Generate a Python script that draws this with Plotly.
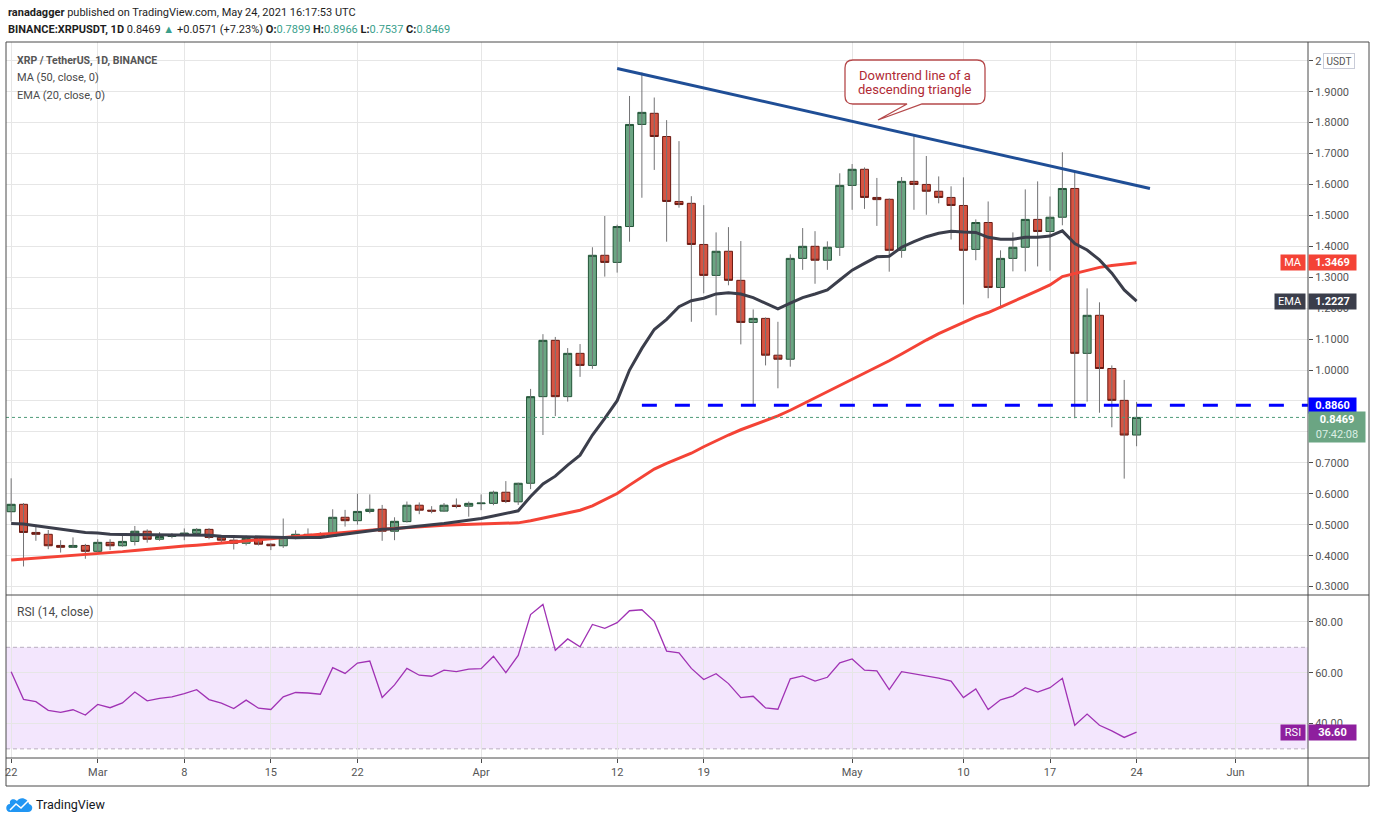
import pandas as pd
import plotly.graph_objects as go

# daily candles, Feb 22 -> May 24 2021
dates = pd.date_range("2021-02-22", periods=92, freq="D")

opens = [0.542, 0.566, 0.475, 0.469, 0.433, 0.427, 0.433,
         0.414, 0.443, 0.432, 0.446, 0.479, 0.453, 0.462, 0.467, 0.472, 0.485,
         0.459, 0.450, 0.440, 0.456, 0.437, 0.432, 0.459, 0.469, 0.466, 0.463,
         0.524, 0.513, 0.543, 0.550, 0.479, 0.510, 0.563, 0.547, 0.544, 0.563, 0.560,
         0.568, 0.569, 0.605, 0.574, 0.634, 0.914, 1.096, 0.914, 1.054, 1.015,
         1.371, 1.348, 1.464, 1.794, 1.830, 1.755, 1.545, 1.539, 1.406, 1.306,
         1.384, 1.290, 1.154, 1.167, 1.048, 1.035, 1.361, 1.400, 1.355, 1.397,
         1.597, 1.649, 1.558, 1.552, 1.387, 1.610, 1.600, 1.578, 1.558, 1.532,
         1.390, 1.477, 1.267, 1.361, 1.397, 1.487, 1.448, 1.494, 1.587, 1.054,
         1.177, 1.005, 0.902, 0.7899]
highs = [0.650, 0.570, 0.500, 0.483, 0.450, 0.459, 0.438,
         0.453, 0.453, 0.470, 0.496, 0.485, 0.476, 0.473, 0.488, 0.489, 0.489,
         0.462, 0.460, 0.465, 0.460, 0.440, 0.520, 0.482, 0.488, 0.476, 0.550,
         0.548, 0.600, 0.598, 0.564, 0.524, 0.575, 0.572, 0.560, 0.570, 0.585, 0.575,
         0.598, 0.610, 0.641, 0.636, 0.939, 1.116, 1.107, 1.071, 1.084, 1.397,
         1.498, 1.470, 1.886, 1.962, 1.881, 1.808, 1.740, 1.562, 1.533, 1.445,
         1.462, 1.417, 1.196, 1.170, 1.156, 1.374, 1.459, 1.449, 1.416, 1.636,
         1.666, 1.655, 1.621, 1.555, 1.624, 1.763, 1.692, 1.626, 1.594, 1.623,
         1.487, 1.545, 1.387, 1.445, 1.584, 1.610, 1.561, 1.704, 1.642, 1.264,
         1.219, 1.015, 0.968, 0.8966]
lows = [0.510, 0.365, 0.448, 0.421, 0.410, 0.425, 0.390,
        0.410, 0.418, 0.429, 0.433, 0.442, 0.448, 0.456, 0.450, 0.470, 0.453,
        0.440, 0.420, 0.433, 0.433, 0.418, 0.425, 0.453, 0.462, 0.456, 0.462,
        0.494, 0.500, 0.537, 0.448, 0.450, 0.507, 0.534, 0.537, 0.541, 0.553, 0.526,
        0.547, 0.563, 0.570, 0.564, 0.615, 0.790, 0.851, 0.898, 0.978, 1.004,
        1.302, 1.315, 1.415, 1.557, 1.647, 1.415, 1.525, 1.156, 1.248, 1.177,
        1.274, 1.083, 0.886, 1.015, 0.941, 1.011, 1.324, 1.279, 1.324, 1.369,
        1.518, 1.521, 1.466, 1.318, 1.363, 1.518, 1.502, 1.539, 1.422, 1.212,
        1.355, 1.232, 1.199, 1.319, 1.319, 1.335, 1.321, 1.468, 0.844, 0.898,
        0.862, 0.815, 0.649, 0.7537]
closes = [0.566, 0.475, 0.469, 0.432, 0.427, 0.433, 0.414,
          0.443, 0.432, 0.446, 0.479, 0.453, 0.462, 0.467, 0.473, 0.485, 0.459,
          0.450, 0.440, 0.456, 0.437, 0.432, 0.459, 0.469, 0.466, 0.463, 0.524,
          0.513, 0.543, 0.550, 0.479, 0.511, 0.563, 0.547, 0.544, 0.563, 0.559, 0.569,
          0.570, 0.605, 0.575, 0.634, 0.914, 1.096, 0.914, 1.054, 1.015, 1.371,
          1.348, 1.464, 1.794, 1.833, 1.755, 1.545, 1.535, 1.406, 1.306, 1.384,
          1.290, 1.154, 1.167, 1.048, 1.035, 1.361, 1.400, 1.355, 1.397, 1.597,
          1.649, 1.558, 1.551, 1.387, 1.610, 1.600, 1.578, 1.558, 1.532, 1.387,
          1.477, 1.267, 1.361, 1.397, 1.487, 1.448, 1.494, 1.587, 1.054, 1.177,
          1.005, 0.902, 0.7898, 0.8469]

ma50 = [0.386, 0.389, 0.392, 0.394, 0.397, 0.399, 0.402,
        0.405, 0.409, 0.413, 0.417, 0.421, 0.425, 0.428, 0.431, 0.434, 0.437,
        0.440, 0.443, 0.447, 0.451, 0.455, 0.459, 0.463, 0.466, 0.469, 0.472,
        0.476, 0.479, 0.482, 0.485, 0.488, 0.491, 0.494, 0.496, 0.498, 0.500, 0.501,
        0.501, 0.502, 0.503, 0.506, 0.513, 0.522, 0.531, 0.539, 0.547, 0.561,
        0.580, 0.601, 0.628, 0.655, 0.680, 0.698, 0.715, 0.731, 0.752, 0.772,
        0.790, 0.807, 0.822, 0.836, 0.852, 0.870, 0.890, 0.910, 0.930, 0.950,
        0.968, 0.989, 1.009, 1.030, 1.052, 1.075, 1.097, 1.118, 1.136, 1.154,
        1.172, 1.186, 1.203, 1.221, 1.239, 1.257, 1.275, 1.302, 1.312, 1.322,
        1.332, 1.338, 1.343, 1.3469]
ema20 = [0.504, 0.502, 0.497, 0.492, 0.485, 0.480, 0.475,
         0.473, 0.469, 0.468, 0.468, 0.467, 0.466, 0.466, 0.466, 0.467, 0.466,
         0.463, 0.462, 0.461, 0.459, 0.458, 0.458, 0.458, 0.459, 0.459, 0.464,
         0.469, 0.475, 0.480, 0.485, 0.487, 0.492, 0.496, 0.500, 0.504, 0.509, 0.515,
         0.520, 0.528, 0.536, 0.545, 0.591, 0.632, 0.657, 0.693, 0.725, 0.790,
         0.844, 0.901, 1.000, 1.070, 1.131, 1.164, 1.205, 1.224, 1.232, 1.246,
         1.250, 1.246, 1.234, 1.216, 1.198, 1.216, 1.234, 1.246, 1.259, 1.291,
         1.323, 1.345, 1.366, 1.368, 1.397, 1.415, 1.431, 1.442, 1.449, 1.446,
         1.445, 1.429, 1.423, 1.423, 1.429, 1.429, 1.433, 1.450, 1.409, 1.388,
         1.356, 1.313, 1.259, 1.2227]
rsi = [60.4, 49.5, 48.6, 45.2, 44.4, 45.4, 43.3, 47.5, 46.2, 48.1,
       52.4, 48.9, 49.9, 50.5, 51.8, 53.3, 49.4, 48.0, 45.9, 49.2,
       46.0, 45.5, 50.5, 52.2, 52.0, 51.5, 62.0, 59.7, 63.8, 64.6,
       50.2, 55.2, 61.7, 59.0, 58.6, 61.0, 60.4, 61.4, 61.6, 66.5,
       60.0, 66.8, 82.9, 86.9, 68.8, 73.3, 70.2, 79.0, 77.5, 79.7,
       84.4, 84.8, 80.2, 68.5, 67.8, 61.7, 57.3, 59.6, 55.7, 50.2,
       50.7, 46.1, 45.6, 57.6, 58.7, 56.7, 58.2, 63.9, 65.4, 61.0,
       60.7, 53.3, 60.4, 59.6, 58.7, 57.9, 56.7, 50.2, 53.6, 45.5,
       49.3, 50.8, 54.1, 52.4, 54.1, 57.8, 39.3, 43.7, 39.3, 37.1,
       34.5, 36.6]

# drawings on the chart
trend_dates = ["2021-04-12", "2021-05-25 02:00"]
trend_prices = [1.975, 1.587]
support_dates = ["2021-04-14", "2021-06-08"]
support_level = 0.886

tick_dates = ["2021-02-22", "2021-03-01", "2021-03-08", "2021-03-15", "2021-03-22",
              "2021-04-01", "2021-04-12", "2021-04-19", "2021-05-01", "2021-05-10",
              "2021-05-17", "2021-05-24", "2021-06-01"]
tick_text = ["22", "Mar", "8", "15", "22", "Apr", "12", "19", "May", "10", "17", "24", "Jun"]
price_ticks = [0.3, 0.4, 0.5, 0.6, 0.7, 0.8, 0.9, 1.0, 1.1, 1.2, 1.3, 1.4, 1.5,
               1.6, 1.7, 1.8, 1.9, 2.0]
# 0.8 / 0.9 sit under the price tags, 2.0 under the currency badge
price_text = ["0.3000", "0.4000", "0.5000", "0.6000", "0.7000", "", "", "1.0000",
              "1.1000", "1.2000", "1.3000", "1.4000", "1.5000", "1.6000", "1.7000",
              "1.8000", "1.9000", "2"]
rsi_ticks = [40, 60, 80]

FONT = "Roboto, sans-serif"
GRID = "#e6e6e6"
FRAME = "#4b4b4b"
UP, UP_LINE = "#6ba583", "#225437"
DOWN, DOWN_LINE = "#d75442", "#6b1a12"
MA_COL, EMA_COL, RSI_COL = "#f44336", "#3b3e4b", "#a032b4"

W, H = 1376, 823
ML, MR, MT, MB = 6, 68, 42, 65
PW, PH = W - ML - MR, H - MT - MB


def xp(px):
    return (px - ML) / PW


def yp(py):
    return (H - MB - py) / PH


split = yp(595)

fig = go.Figure()

# wicks first (grey), bodies drawn on top
wx, wy = [], []
for d, lo, hi in zip(dates, lows, highs):
    wx += [d, d, None]
    wy += [lo, hi, None]
fig.add_trace(go.Scatter(x=wx, y=wy, mode="lines", line=dict(color="#737375", width=1),
                         hoverinfo="skip", xaxis="x", yaxis="y"))

fig.add_trace(go.Candlestick(
    x=dates, open=opens, close=closes,
    high=[max(o, c) for o, c in zip(opens, closes)],
    low=[min(o, c) for o, c in zip(opens, closes)],
    increasing=dict(fillcolor=UP, line=dict(color=UP_LINE, width=1)),
    decreasing=dict(fillcolor=DOWN, line=dict(color=DOWN_LINE, width=1)),
    whiskerwidth=0, xaxis="x", yaxis="y"))

fig.add_trace(go.Scatter(x=dates, y=ma50, mode="lines", line=dict(color=MA_COL, width=3),
                         xaxis="x", yaxis="y"))
fig.add_trace(go.Scatter(x=dates, y=ema20, mode="lines", line=dict(color=EMA_COL, width=3),
                         xaxis="x", yaxis="y"))
fig.add_trace(go.Scatter(x=trend_dates, y=trend_prices, mode="lines",
                         line=dict(color="#1f4e96", width=3), xaxis="x", yaxis="y"))
fig.add_trace(go.Scatter(x=support_dates, y=[support_level] * 2, mode="lines",
                         line=dict(color="#0000ff", width=3, dash="15px,18px"),
                         xaxis="x", yaxis="y"))

fig.add_trace(go.Scatter(x=dates, y=rsi, mode="lines", line=dict(color=RSI_COL, width=1.3),
                         xaxis="x", yaxis="y2"))

shapes = [
    # rsi band
    dict(type="rect", xref="paper", yref="y2", x0=0, x1=1, y0=30, y1=70,
         fillcolor="#f3e6fd", line=dict(width=0), layer="below"),
    dict(type="line", xref="paper", yref="y2", x0=0, x1=1, y0=70, y1=70,
         line=dict(color="#b9aec0", width=1, dash="4px,3px"), layer="below"),
    dict(type="line", xref="paper", yref="y2", x0=0, x1=1, y0=30, y1=30,
         line=dict(color="#b9aec0", width=1, dash="4px,3px"), layer="below"),
    # last price line
    dict(type="line", xref="paper", yref="y", x0=0, x1=1, y0=closes[-1], y1=closes[-1],
         line=dict(color="#4f9a78", width=1, dash="dot")),
    # frame
    dict(type="rect", xref="paper", yref="paper", x0=0, x1=xp(1369), y0=yp(786), y1=1,
         line=dict(color=FRAME, width=1)),
    dict(type="line", xref="paper", yref="paper", x0=1, x1=1, y0=yp(786), y1=1,
         line=dict(color=FRAME, width=1)),
    dict(type="line", xref="paper", yref="paper", x0=0, x1=xp(1369), y0=split, y1=split,
         line=dict(color=FRAME, width=1)),
    dict(type="line", xref="paper", yref="paper", x0=0, x1=xp(1369), y0=0, y1=0,
         line=dict(color=FRAME, width=1)),
]


def path(points):
    out = []
    for p in points:
        if isinstance(p, str):
            out.append(p)
        else:
            out.append(f"{xp(p[0]):.5f},{yp(p[1]):.5f}")
    return " ".join(out)


# callout box with pointer
callout = path(["M", (853, 60), "L", (977, 60), "Q", (985, 60), (985, 68), "L", (985, 96),
                "Q", (985, 104), (977, 104), "L", (922, 104), "L", (878, 120), "L", (907, 104),
                "L", (853, 104), "Q", (845, 104), (845, 96), "L", (845, 68),
                "Q", (845, 60), (853, 60), "Z"])
shapes.append(dict(type="path", xref="paper", yref="paper", path=callout,
                   fillcolor="white", line=dict(color="#b5494b", width=1.3)))

# tradingview logo
cloud = path(["M", (10, 812), "L", (28, 812), "C", (33, 812), (34, 805), (29, 804),
              "C", (28, 798), (20, 796), (17, 801), "C", (14, 798), (9, 799), (10, 804),
              "C", (5, 804), (5, 812), (10, 812), "Z"])
shapes.append(dict(type="path", xref="paper", yref="paper", path=cloud,
                   fillcolor="#2196f3", line=dict(width=0)))
zig = path(["M", (10, 810), "L", (16, 804), "L", (21, 808), "L", (28, 801)])
shapes.append(dict(type="path", xref="paper", yref="paper", path=zig,
                   line=dict(color="white", width=1.5)))

ann = []


def text(s, px, py, size=13, color="#4a4a4a", anchor="left"):
    ann.append(dict(text=s, x=xp(px), y=yp(py), xref="paper", yref="paper",
                    xanchor=anchor, yanchor="middle", showarrow=False,
                    font=dict(size=size, color=color)))


def tag(s, yref, yval, px, anchor, width, bg, height=13, size=11, color="white"):
    ann.append(dict(text=s, x=xp(px), y=yval, xref="paper", yref=yref,
                    xanchor=anchor, yanchor="middle", showarrow=False, width=width,
                    height=height, bgcolor=bg, borderpad=1, align="center",
                    font=dict(size=size, color=color)))


TEAL = "#3a9f8c"
text("<b>ranadagger</b> published on TradingView.com, May 24, 2021 16:17:53 UTC",
     6, 12, size=11, color="#1e1e1e")
chg = closes[-1] - closes[-2]
text(f"<b>BINANCE:XRPUSDT, 1D</b> {closes[-1]:.4f} <span style='color:{TEAL}'>▲</span> "
     f"+{chg:.4f} (+{chg / closes[-2] * 100:.2f}%) "
     f"<b>O:</b><span style='color:{TEAL}'>{opens[-1]:.4f}</span> "
     f"<b>H:</b><span style='color:{TEAL}'>{highs[-1]:.4f}</span> "
     f"<b>L:</b><span style='color:{TEAL}'>{lows[-1]:.4f}</span> "
     f"<b>C:</b><span style='color:{TEAL}'>{closes[-1]:.4f}</span>",
     6, 29, size=11, color="#1e1e1e")

text("<b>XRP / TetherUS, 1D, BINANCE</b>", 15, 60, size=10.5, color="#555555")
text("MA (50, close, 0)", 15, 77, size=11)
text("EMA (20, close, 0)", 15, 95, size=11)
text("RSI (14, close)", 15, 612, size=12)

text("Downtrend line of a", 915, 76, color="#b02a35", anchor="center")
text("descending triangle", 915, 89, color="#b02a35", anchor="center")

text("TradingView", 34, 805, size=12.5, color="#131722")

# price scale tags
tag("USDT", "y", 2.0, 1323, "left", 28, "white", height=12, size=10, color="#555555")
ann[-1].update(bordercolor="#c9ccd8", borderwidth=1)
tag("MA", "y", ma50[-1], 1306, "right", 22, MA_COL)
tag(f"<b>{ma50[-1]:.4f}</b>", "y", ma50[-1], 1308, "left", 45, MA_COL)
tag("EMA", "y", ema20[-1], 1306, "right", 28, EMA_COL)
tag(f"<b>{ema20[-1]:.4f}</b>", "y", ema20[-1], 1308, "left", 45, EMA_COL)
tag(f"<b>{support_level:.4f}</b>", "y", support_level, 1308, "left", 45, "#0000ff")
tag(f"<b>{closes[-1]:.4f}</b><br><span style='color:#dcefe4'>07:42:08</span>", "y",
    closes[-1] - 0.032, 1308, "left", 54, UP, height=28)
tag("RSI", "y2", rsi[-1], 1306, "right", 22, "#8e1f9e")
tag(f"<b>{rsi[-1]:.2f}</b>", "y2", rsi[-1], 1308, "left", 45, "#8e1f9e")

fig.update_layout(
    width=W, height=H,
    margin=dict(l=ML, r=MR, t=MT, b=MB),
    paper_bgcolor="white", plot_bgcolor="white",
    showlegend=False,
    font=dict(family=FONT, size=11, color="#4a4a4a"),
    boxgap=0.35, boxgroupgap=0,
    xaxis=dict(type="date", range=["2021-02-21 14:00", "2021-06-06 20:40"], anchor="y2",
               tickvals=tick_dates, ticktext=tick_text, showgrid=True, gridcolor=GRID,
               ticks="outside", ticklen=4, tickcolor=FRAME, zeroline=False,
               rangeslider=dict(visible=False), tickfont=dict(size=11, color="#555555")),
    yaxis=dict(domain=[split, 1], range=[0.2728, 2.0605], side="right",
               tickvals=price_ticks, ticktext=price_text,
               showgrid=True, gridcolor=GRID, ticks="outside", ticklen=4,
               tickcolor=FRAME, zeroline=False, tickfont=dict(size=11, color="#555555")),
    yaxis2=dict(domain=[0, split], range=[26.4, 90.6], side="right",
                tickvals=rsi_ticks, ticktext=[f"{v:.2f}" for v in rsi_ticks],
                showgrid=True, gridcolor=GRID, ticks="outside", ticklen=4,
                tickcolor=FRAME, zeroline=False, tickfont=dict(size=11, color="#555555")),
    shapes=shapes,
    annotations=ann,
)

# page body margin off so the figure sits at the window's top-left corner
fig.write_html("out.html", config={"displayModeBar": False},
               post_script="document.body.style.margin='0px';")
